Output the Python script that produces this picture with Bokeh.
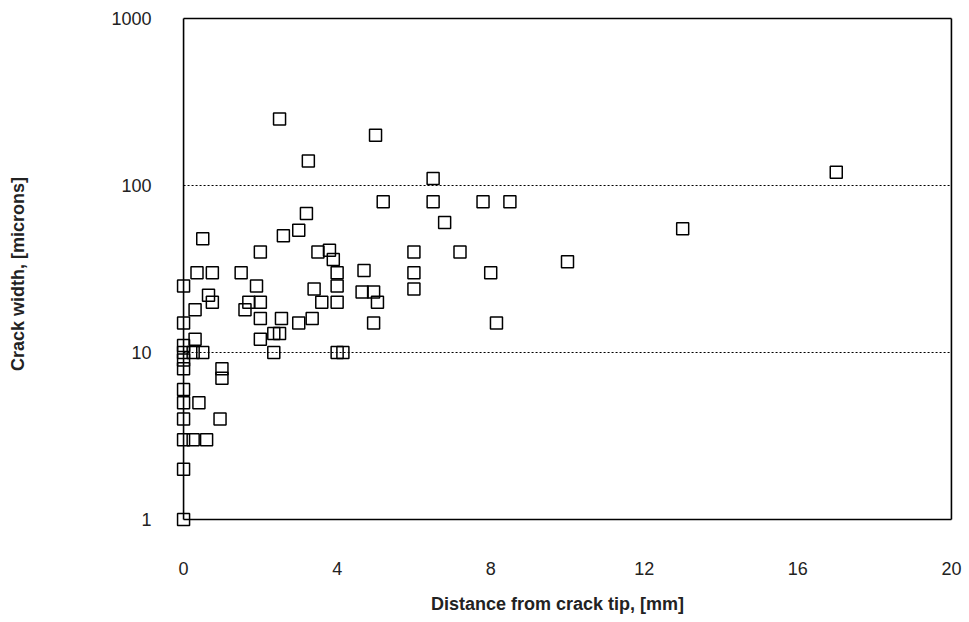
from bokeh.plotting import figure
from bokeh.models import ColumnDataSource, FixedTicker, Range1d, NumeralTickFormatter
from bokeh.embed import file_html
from bokeh.resources import INLINE

distance_mm = [2.5, 5.0, 3.25, 6.5, 17, 5.2, 6.5, 7.8, 8.5, 3.2, 6.8, 3.0, 2.6, 13, 0.5,
               2.0, 3.5, 3.8, 3.9, 6.0, 7.2, 10, 4.7, 6.0, 8.0, 4.0, 0.35, 0.75, 1.5, 0,
               1.9, 3.4, 4.0, 6.0, 4.65, 4.95, 0.65, 0.75, 0.3, 1.7, 2.0, 1.6, 5.05, 3.6, 4.0,
               2.0, 2.55, 3.0, 3.35, 0, 4.95, 8.15, 2.0, 2.35, 2.5, 0.3, 0, 0, 0.25, 0.5,
               2.35, 4.0, 4.15, 0, 0, 1.0, 1.0, 0, 0, 0.4, 0, 0.95, 0, 0.25, 0.6, 0, 0]
width_um = [250, 200, 140, 110, 120, 80, 80, 80, 80, 68, 60, 54, 50, 55, 48,
            40, 40, 41, 36, 40, 40, 35, 31, 30, 30, 30, 30, 30, 30, 25,
            25, 24, 25, 24, 23, 23, 22, 20, 18, 20, 20, 18, 20, 20, 20,
            16, 16, 15, 16, 15, 15, 15, 12, 13, 13, 12, 11, 10, 10, 10,
            10, 10, 10, 9, 8, 8, 7, 6, 5, 5, 4, 4, 3, 3, 3, 2, 1]

x_ticks = [0, 4, 8, 12, 16, 20]
y_ticks = [1, 10, 100, 1000]
grid_levels = [10, 100]
x_min, x_max = 0, 20
y_min, y_max = 1, 1000

src = ColumnDataSource(data=dict(x=distance_mm, y=width_um))

p = figure(width=969, height=622, y_axis_type="log",
           x_range=Range1d(-0.21, 20.21), y_range=Range1d(0.895, 1117),
           output_backend="svg", toolbar_location=None,
           min_border_left=175, min_border_right=10,
           min_border_top=10, min_border_bottom=95)

p.outline_line_color = None
p.xgrid.grid_line_color = None
p.ygrid.ticker = FixedTicker(ticks=grid_levels)
p.ygrid.grid_line_color = None
p.ygrid.minor_grid_line_color = None

# dotted reference lines at the decade levels, spanning the data box
p.segment(x0=[x_min] * len(grid_levels), x1=[x_max] * len(grid_levels),
          y0=grid_levels, y1=grid_levels,
          line_color="black", line_dash="2 2", line_width=1.2)

# frame box drawn at the data limits
p.segment(x0=[x_min, x_max, x_min, x_min], x1=[x_min, x_max, x_max, x_max],
          y0=[y_min, y_min, y_min, y_max], y1=[y_max, y_max, y_min, y_max],
          line_color="black", line_width=1.6)

p.scatter("x", "y", source=src, marker="square", size=12,
          fill_color=None, line_color="black", line_width=1.5)

p.xaxis.ticker = FixedTicker(ticks=x_ticks)
p.yaxis.ticker = FixedTicker(ticks=y_ticks)
p.yaxis.formatter = NumeralTickFormatter(format="0")

for ax in (p.xaxis, p.yaxis):
    ax.axis_line_color = None
    ax.major_tick_line_color = None
    ax.minor_tick_line_color = None
    ax.major_label_text_font = "Liberation Sans"
    ax.major_label_text_font_size = "18px"
    ax.major_label_text_color = "#222222"
    ax.axis_label_text_font = "Liberation Sans"
    ax.axis_label_text_font_style = "bold"
    ax.axis_label_text_font_size = "18px"
    ax.axis_label_text_color = "#222222"

p.xaxis.major_label_standoff = 28
p.yaxis.major_label_standoff = 18
p.xaxis.axis_label = "Distance  from  crack  tip,  [mm]"
p.yaxis.axis_label = "Crack  width,  [microns]"
p.xaxis.axis_label_standoff = 16
p.yaxis.axis_label_standoff = 80

open("out.html", "w").write(file_html(p, INLINE))
